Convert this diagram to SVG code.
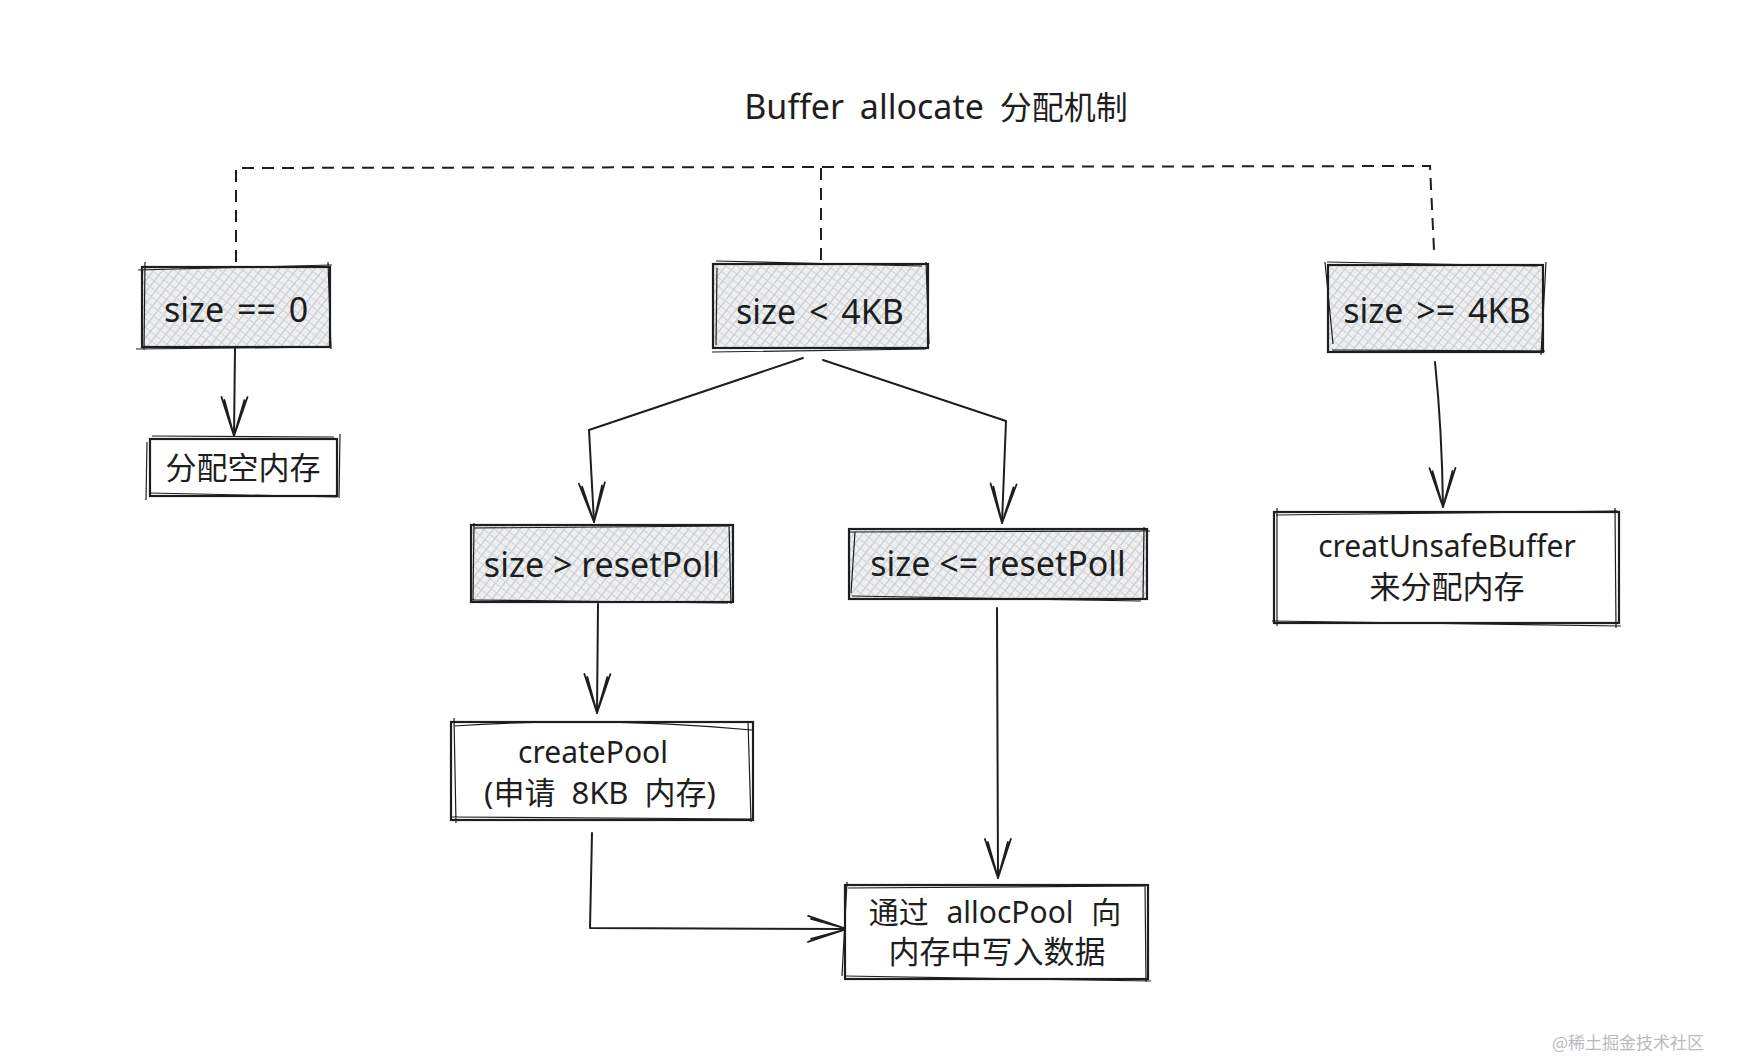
<svg xmlns="http://www.w3.org/2000/svg" width="1740" height="1056" viewBox="0 0 1740 1056">
  <defs>
    <pattern id="hatch" width="7" height="7" patternUnits="userSpaceOnUse" patternTransform="rotate(38)">
      <rect width="7" height="7" fill="#eeeff1"/>
      <line x1="0.5" y1="0" x2="0.5" y2="7" stroke="#c4c8cd" stroke-width="1.2"/>
      <line x1="0" y1="0.5" x2="7" y2="0.5" stroke="#cfd2d6" stroke-width="1"/>
    </pattern>
    <marker id="arr" markerUnits="userSpaceOnUse" markerWidth="46" markerHeight="32" refX="42" refY="16" orient="auto">
      <path d="M3,3 L42,16 L3,29 M6,6 L42,16 L6,26" fill="none" stroke="#1e1e1e" stroke-width="1.8" stroke-linecap="round" stroke-linejoin="round"/>
    </marker>
    <style>
      .box { stroke: #1e1e1e; stroke-width: 2.2; fill: #ffffff; }
      .hbox { stroke: #1e1e1e; stroke-width: 2.2; fill: url(#hatch); }
      .sk { stroke: #1e1e1e; stroke-width: 1.2; fill: none; }
      .lbl { font-family: "Noto Sans", "Noto Sans CJK SC", sans-serif; fill: #1e1e1e; text-anchor: middle; dominant-baseline: central; }
      .con { stroke: #1e1e1e; stroke-width: 2; fill: none; stroke-linecap: round; stroke-linejoin: round; }
      .dash { stroke: #1e1e1e; stroke-width: 2; fill: none; stroke-dasharray: 12 8; }
    </style>
  </defs>
  <rect width="1740" height="1056" fill="#ffffff"/>

  <text id="title" class="lbl" x="936" y="106" font-size="34" word-spacing="7">Buffer allocate <tspan font-size="32">分配机制</tspan></text>

  <g id="connectors">
    <path class="dash" d="M236,262 L236,168 L1430,166 L1434,250"/>
    <path class="dash" d="M821,168 L821,266"/>
    <path class="con" d="M235,348 L234,436" marker-end="url(#arr)"/>
    <path class="con" d="M803,358 L589,430 L594,522" marker-end="url(#arr)"/>
    <path class="con" d="M823,360 L1006,421 L1002,523" marker-end="url(#arr)"/>
    <path class="con" d="M1435,362 Q1442,430 1443,507" marker-end="url(#arr)"/>
    <path class="con" d="M598,604 L597,713" marker-end="url(#arr)"/>
    <path class="con" d="M592,833 L590,928 L847,929" marker-end="url(#arr)"/>
    <path class="con" d="M997,608 L998,878" marker-end="url(#arr)"/>
  </g>

  <g id="n-size-eq-0">
    <rect class="hbox" x="142" y="267" width="188" height="80"/>
    <path class="sk" d="M138,270 L332,265 M145,262 L144,350 M328,262 L331,349 M136,349 L330,347"/>
    <text class="lbl" x="236" y="309" font-size="34" word-spacing="4">size == 0</text>
  </g>

  <g id="n-empty">
    <rect class="box" x="150" y="439" width="187" height="57"/>
    <path class="sk" d="M152,436 L334,437 M147,442 L146,500 M340,434 L339,498 M150,493 L337,497"/>
    <text class="lbl" x="243" y="467" font-size="31">分配空内存</text>
  </g>

  <g id="n-lt-4kb">
    <rect class="hbox" x="713" y="264" width="215" height="84"/>
    <path class="sk" d="M716,261 L922,266 M717,268 L716,345 M926,262 L929,344 M712,352 L926,349"/>
    <text class="lbl" x="820" y="311" font-size="34" word-spacing="4">size &lt; 4KB</text>
  </g>

  <g id="n-ge-4kb">
    <rect class="hbox" x="1328" y="265" width="215" height="87"/>
    <path class="sk" d="M1327,262 L1538,266 M1325,262 L1333,344 M1546,262 L1541,355 M1332,350 L1545,351"/>
    <text class="lbl" x="1437" y="310" font-size="34" word-spacing="4">size &gt;= 4KB</text>
  </g>

  <g id="n-unsafe">
    <rect class="box" x="1274" y="512" width="345" height="111"/>
    <path class="sk" d="M1276,515 L1618,511 M1277,508 L1277,626 M1615,508 L1616,628 M1272,621 L1621,626"/>
    <text class="lbl" x="1447" y="545" font-size="30">creatUnsafeBuffer</text>
    <text class="lbl" x="1447" y="586" font-size="31">来分配内存</text>
  </g>

  <g id="n-gt-reset">
    <rect class="hbox" x="471" y="525" width="262" height="77"/>
    <path class="sk" d="M474,528 L730,526 M474,523 L473,600 M729,525 L731,604 M471,600 L728,603"/>
    <text class="lbl" x="602" y="564" font-size="34">size &gt; resetPoll</text>
  </g>

  <g id="n-le-reset">
    <rect class="hbox" x="849" y="529" width="298" height="70"/>
    <path class="sk" d="M850,532 L1150,531 M855,532 L851,593 M1144,527 L1143,599 M852,596 L1141,601"/>
    <text class="lbl" x="998" y="563" font-size="34">size &lt;= resetPoll</text>
  </g>

  <g id="n-createpool">
    <rect class="box" x="451" y="722" width="302" height="98"/>
    <path class="sk" d="M454,726 Q600,716 752,730 M454,718 L456,823 M748,721 L751,822 M451,817 L752,819"/>
    <text class="lbl" x="593" y="751" font-size="30">createPool</text>
    <text class="lbl" x="600" y="792" font-size="31" word-spacing="8">(申请 8KB 内存)</text>
  </g>

  <g id="n-allocpool">
    <rect class="box" x="845" y="885" width="303" height="94"/>
    <path class="sk" d="M848,888 L1146,886 M847,882 L842,976 M1145,884 L1146,982 M845,976 L1151,981"/>
    <text class="lbl" x="995" y="911" font-size="30" word-spacing="10">通过 allocPool 向</text>
    <text class="lbl" x="997" y="951" font-size="31">内存中写入数据</text>
  </g>

  <text id="watermark" x="1552" y="1049" font-family="'Noto Sans CJK SC', sans-serif" font-size="17" fill="#b8bbc0">@稀土掘金技术社区</text>
</svg>
